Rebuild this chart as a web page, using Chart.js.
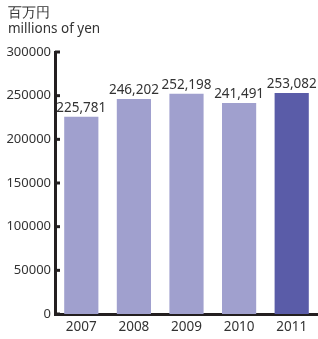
<!DOCTYPE html>
<html>
<head>
<meta charset="utf-8">
<script src="https://cdn.jsdelivr.net/npm/chart.js@4"></script>
<style>
  html, body { margin: 0; padding: 0; background: #fff; }
  #wrap { position: relative; width: 318px; height: 339px; }
  .unit { position: absolute; left: 8px; font-family: "Noto Sans", sans-serif; font-size: 13.5px; color: #333; line-height: 16px; }
</style>
</head>
<body>
<div id="wrap">
  <div class="unit" style="top:4px">百万円</div>
  <div class="unit" style="top:20px">millions of yen</div>
  <canvas id="chart" width="318" height="339"></canvas>
</div>
<script>
const years = ['2007', '2008', '2009', '2010', '2011'];
const sales = [225781, 246202, 252198, 241491, 253082];
const barColors = ['#a0a0ce', '#a0a0ce', '#a0a0ce', '#a0a0ce', '#5a5ca8'];

// 棒の上に数値ラベル
const valueLabels = {
    id: 'valueLabels',
    afterDatasetsDraw(chart) {
        const ctx = chart.ctx;
        const meta = chart.getDatasetMeta(0);
        ctx.save();
        ctx.font = '13.5px "Noto Sans", sans-serif';
        ctx.fillStyle = '#333';
        ctx.textAlign = 'center';
        ctx.textBaseline = 'bottom';
        meta.data.forEach((bar, i) => {
            ctx.fillText(sales[i].toLocaleString('en-US'), bar.x, bar.y - 2);
        });
        ctx.restore();
    }
};

// y軸の目盛りを内側に描く
const innerTicks = {
    id: 'innerTicks',
    afterDraw(chart) {
        const ctx = chart.ctx;
        const y = chart.scales.y;
        const left = chart.chartArea.left;
        ctx.save();
        ctx.strokeStyle = '#231f20';
        ctx.lineWidth = 3;
        y.ticks.forEach((t, i) => {
            const py = y.getPixelForTick(i);
            ctx.beginPath();
            ctx.moveTo(left, py);
            ctx.lineTo(left + 5, py);
            ctx.stroke();
        });
        ctx.restore();
    }
};

new Chart(document.getElementById('chart'), {
    type: 'bar',
    data: {
        labels: years,
        datasets: [{
            data: sales,
            backgroundColor: barColors,
            barPercentage: 0.65,
            categoryPercentage: 1.0
        }]
    },
    options: {
        responsive: false,
        animation: false,
        layout: { padding: { top: 52, right: 0, left: 0, bottom: 0 } },
        plugins: {
            legend: { display: false },
            tooltip: { enabled: false }
        },
        scales: {
            x: {
                grid: { display: false, drawTicks: false },
                border: { display: true, color: '#231f20', width: 3 },
                ticks: { color: '#333', font: { family: 'Noto Sans', size: 13.5 }, padding: 5 },
                afterFit: (s) => { s.height = 25; }
            },
            y: {
                min: 0,
                max: 300000,
                grid: { display: false, drawTicks: false },
                border: { display: true, color: '#231f20', width: 3 },
                ticks: {
                    stepSize: 50000,
                    color: '#333',
                    font: { family: 'Noto Sans', size: 13 },
                    padding: 4,
                    callback: (v) => String(v)
                },
                afterFit: (s) => { s.width = 55; }
            }
        }
    },
    plugins: [valueLabels, innerTicks]
});
</script>
</body>
</html>
